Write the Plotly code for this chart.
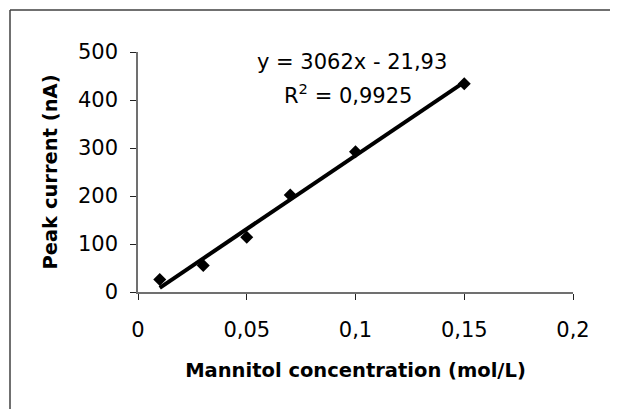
import plotly.graph_objects as go

# Data
concentration = [0.01, 0.03, 0.05, 0.07, 0.10, 0.15]   # mol/L
peak_current = [26, 55, 114, 202, 292, 434]             # nA
slope = 3062
intercept = -21.93
r_squared = 0.9925

x_tickvals = [0, 0.05, 0.10, 0.15, 0.20]
x_ticktext = ["0", "0,05", "0,1", "0,15", "0,2"]
y_tickvals = [0, 100, 200, 300, 400, 500]
y_ticktext = ["0", "100", "200", "300", "400", "500"]

FONT = "DejaVu Sans"

def fmt(v, nd):
    return f"{v:.{nd}f}".replace(".", ",")

trend_x = [min(concentration), max(concentration)]
trend_y = [slope * x + intercept for x in trend_x]

fig = go.Figure()
fig.add_trace(go.Scatter(
    x=trend_x, y=trend_y, mode="lines",
    line=dict(color="black", width=4),
    showlegend=False, hoverinfo="skip",
))
fig.add_trace(go.Scatter(
    x=concentration, y=peak_current, mode="markers",
    marker=dict(symbol="diamond", size=10, color="black"),
    showlegend=False,
))

W, H = 618, 409
OFF = 8  # page body margin offset
# desired plot area in screen pixels: x 138..573, y 52..292
sx0, sx1, sy0, sy1 = 138, 573, 52, 292
ml = sx0 - OFF
mt = sy0 - OFF
mr = W - (sx1 - OFF)
mb = H - (sy1 - OFF)
pw, ph = W - ml - mr, H - mt - mb

def px2paper_x(px):
    return (px - sx0) / pw

def px2paper_y(py):
    return (sy1 - py) / ph

eq_text = f"y = {slope}x - {fmt(abs(intercept), 2)}"
r2_text = f"R<sup>2</sup> = {fmt(r_squared, 4)}"

border = dict(color="#404040", width=1.5)

fig.update_layout(
    width=W, height=H,
    margin=dict(l=ml, r=mr, t=mt, b=mb, pad=0),
    paper_bgcolor="white", plot_bgcolor="white",
    font=dict(family=FONT, color="black", size=21),
    xaxis=dict(
        range=[0, 0.2], tickvals=x_tickvals, ticktext=x_ticktext,
        showline=True, linecolor="#707070", linewidth=1.5,
        ticks="outside", ticklen=6, tickwidth=1, tickcolor="#222",
        showgrid=False, zeroline=False,
        tickfont=dict(family=FONT, size=21, color="black"),
        ticklabelstandoff=12,
        title=dict(text="<b>Mannitol concentration (mol/L)</b>",
                   font=dict(family=FONT, size=19.5, color="black"),
                   standoff=22),
    ),
    yaxis=dict(
        range=[0, 500], tickvals=y_tickvals, ticktext=y_ticktext,
        showline=True, linecolor="#707070", linewidth=1.5,
        ticks="outside", ticklen=6, tickwidth=1, tickcolor="#222",
        showgrid=False, zeroline=False,
        tickfont=dict(family=FONT, size=21, color="black"),
        ticklabelstandoff=8,
        title=dict(text="<b>Peak current (nA)</b>",
                   font=dict(family=FONT, size=19.5, color="black"),
                   standoff=15),
    ),
    annotations=[
        dict(x=px2paper_x(352), y=px2paper_y(62), xref="paper", yref="paper",
             text=eq_text, showarrow=False, xanchor="center", yanchor="middle",
             font=dict(family=FONT, size=21, color="black")),
        dict(x=px2paper_x(348), y=px2paper_y(94), xref="paper", yref="paper",
             text=r2_text, showarrow=False, xanchor="center", yanchor="middle",
             font=dict(family=FONT, size=21, color="black")),
    ],
    shapes=[
        dict(type="line", xref="paper", yref="paper",
             x0=px2paper_x(10), x1=px2paper_x(10),
             y0=px2paper_y(440), y1=px2paper_y(10),
             line=border, layer="below"),
        dict(type="line", xref="paper", yref="paper",
             x0=px2paper_x(10), x1=px2paper_x(660),
             y0=px2paper_y(10), y1=px2paper_y(10),
             line=border, layer="below"),
    ],
)

fig.write_html("out.html")
